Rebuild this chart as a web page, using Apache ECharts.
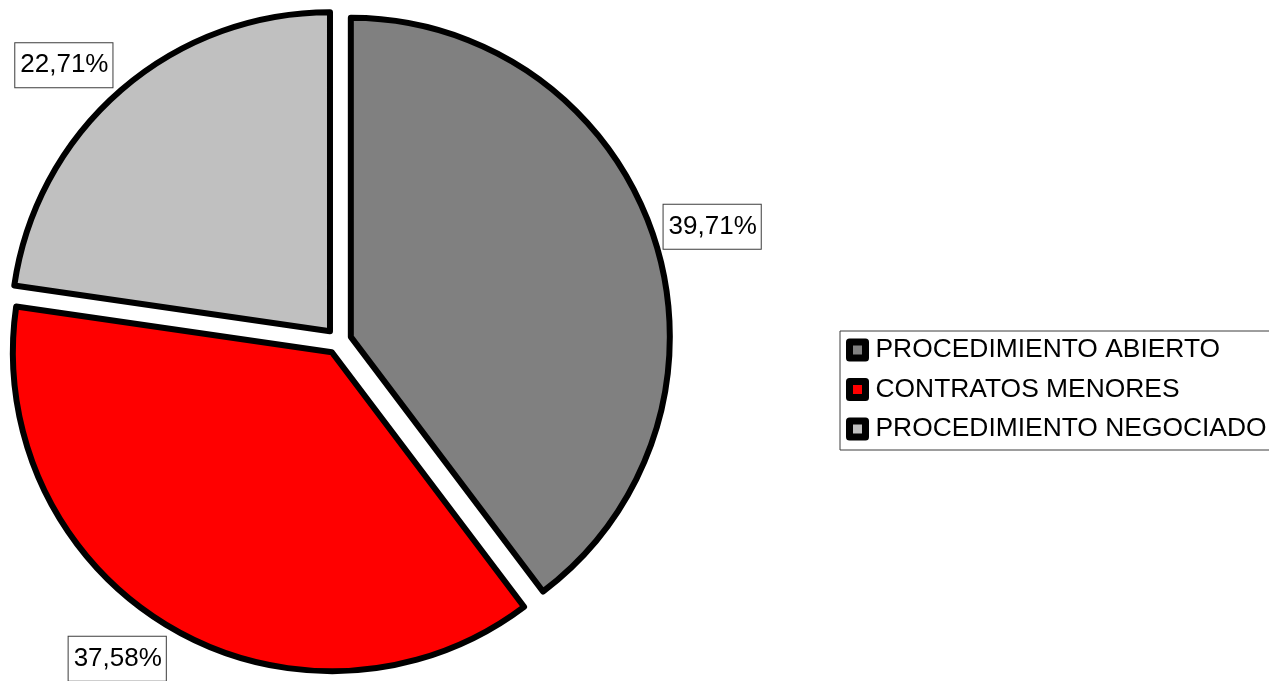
<!DOCTYPE html>
<html>
<head>
<meta charset="utf-8">
<script src="https://cdn.jsdelivr.net/npm/echarts@6/dist/echarts.min.js"></script>
<style>
html,body{margin:0;padding:0;background:#fff;}
#chart{width:1269px;height:681px;}
</style>
</head>
<body>
<div id="chart"></div>
<script>
const categories = ['PROCEDIMIENTO ABIERTO', 'CONTRATOS MENORES', 'PROCEDIMIENTO NEGOCIADO'];
const values = [39.71, 37.58, 22.71];
const labels = ['39,71%', '37,58%', '22,71%'];
const colors = ['#808080', '#ff0000', '#c0c0c0'];
// per-slice label placement (label line lengths, line itself hidden)
const labelLines = [[27.7, -21], [37.1, -20.2], [32.8, -17.7]];

const chart = echarts.init(document.getElementById('chart'));
chart.setOption({
  animation: false,
  backgroundColor: '#fff',
  legend: {
    orient: 'vertical',
    left: 840,
    top: 331,
    padding: [6, 12, 8, 6],
    itemGap: 13.5,
    itemWidth: 16,
    itemHeight: 16,
    borderColor: '#3c3c3c',
    borderWidth: 1,
    selectedMode: false,
    icon: 'rect',
    itemStyle: { borderColor: '#000', borderWidth: 7 },
    textStyle: { fontSize: 26.4, color: '#000', fontFamily: 'Liberation Sans', padding: [0, 0, 0, 5] },
    data: categories
  },
  series: [{
    type: 'pie',
    center: [338.5, 341],
    radius: [0, 319],
    startAngle: 90,
    clockwise: true,
    selectedMode: 'multiple',
    selectedOffset: 13,
    avoidLabelOverlap: false,
    emphasis: { disabled: true },
    itemStyle: { borderColor: '#000', borderWidth: 6, borderJoin: 'round' },
    label: {
      show: true,
      position: 'outside',
      alignTo: 'none',
      overflow: 'none',
      formatter: p => labels[p.dataIndex],
      fontSize: 26,
      fontFamily: 'Liberation Sans',
      color: '#000',
      lineHeight: 30,
      backgroundColor: '#fff',
      borderColor: '#3c3c3c',
      borderWidth: 1,
      padding: [7, 4, 7, 5]
    },
    labelLine: { show: false },
    data: categories.map((c, i) => ({
      name: c,
      value: values[i],
      selected: true,
      itemStyle: { color: colors[i] },
      labelLine: { show: false, length: labelLines[i][0], length2: labelLines[i][1] }
    }))
  }]
});
</script>
</body>
</html>
